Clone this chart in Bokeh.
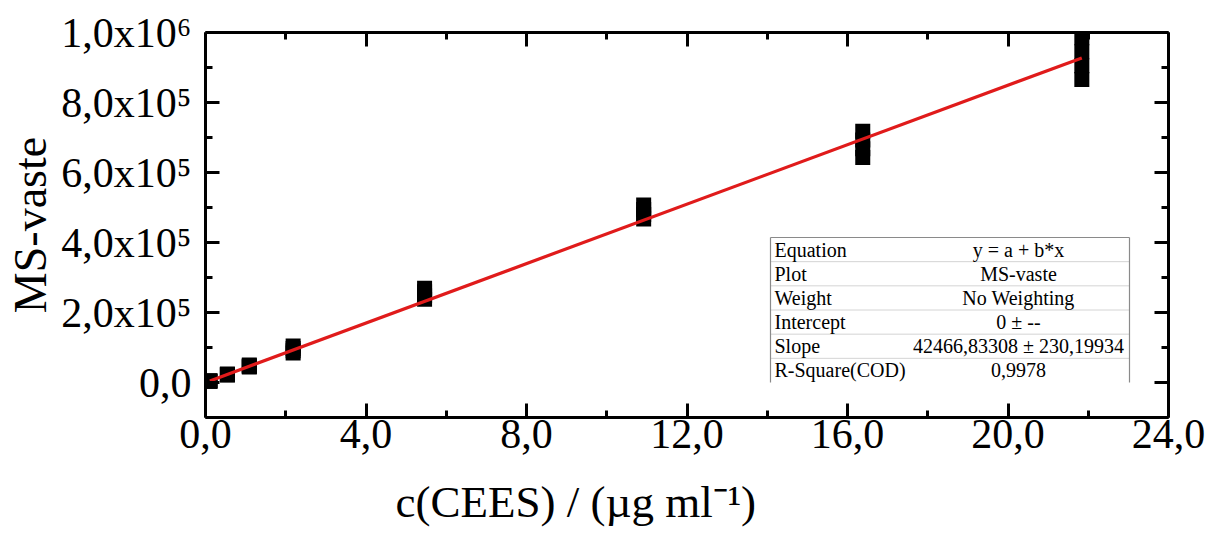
from bokeh.plotting import figure
from bokeh.models import Range1d, FixedTicker, LinearAxis, CustomJSTickFormatter, Title
from bokeh.core.properties import value
from bokeh.embed import file_html
from bokeh.resources import INLINE

# ---------------- data ----------------
conc = [0.109, 0.546, 1.092, 2.184, 5.46, 10.92, 16.38, 21.84]
rep1 = [3800, 21300, 44100, 84000, 238000, 467000, 643000, 866000]
rep2 = [4100, 22200, 46000, 91000, 248000, 480000, 668000, 905000]
rep3 = [4300, 23200, 48000, 97000, 259000, 494000, 693000, 945000]
rep4 = [4500, 24100, 49800, 104000, 269500, 507000, 718000, 985000]
fit_intercept = 0.0
fit_slope = 42466.83308

x_ticks = [0, 4, 8, 12, 16, 20, 24]
x_minor = [2, 6, 10, 14, 18, 22]
x_tick_labels = ["0,0", "4,0", "8,0", "12,0", "16,0", "20,0", "24,0"]
y_ticks = [0, 200000, 400000, 600000, 800000, 1000000]
y_minor = [-100000, 100000, 300000, 500000, 700000, 900000]
y_tick_labels = ["0,0", "2,0x10\u2075", "4,0x10\u2075", "6,0x10\u2075", "8,0x10\u2075", "1,0x10\u2076"]

table_keys = ["Equation", "Plot", "Weight", "Intercept", "Slope", "R-Square(COD)"]
table_vals = ["y = a + b*x", "MS-vaste", "No Weighting", "0 \u00b1 --",
              "42466,83308 \u00b1 230,19934", "0,9978"]

x_title = "c(CEES) / (\u00b5g ml\u207b\u00b9)"
y_title = "MS-vaste"

# ---------------- figure ----------------
FONT = "Liberation Serif"
W, H = 1213, 553
FL, FR, FT, FB = 205, 1168, 32, 417
X0, X1, Y0, Y1 = 0, 24, -100000, 1000000

p = figure(width=W, height=H, x_range=Range1d(X0, X1), y_range=Range1d(Y0, Y1),
           output_backend="svg", toolbar_location=None,
           min_border_left=FL, min_border_right=W - FR,
           min_border_top=FT, min_border_bottom=H - FB)
p.xgrid.visible = False
p.ygrid.visible = False
p.outline_line_color = None
p.background_fill_color = "white"
p.border_fill_color = "white"


def dx(px):
    return X0 + (px - FL) / (FR - FL) * (X1 - X0)


def dy(py):
    return Y1 - (py - FT) / (FB - FT) * (Y1 - Y0)


def style_axis(ax):
    ax.axis_line_width = 3
    ax.axis_line_color = "black"
    ax.major_tick_in = 14
    ax.major_tick_out = 0
    ax.minor_tick_in = 7
    ax.minor_tick_out = 0
    ax.major_tick_line_width = 3
    ax.minor_tick_line_width = 3
    ax.major_label_text_font = FONT
    ax.major_label_text_font_size = "42px"
    ax.major_label_text_color = "black"
    ax.axis_label_text_font = FONT
    ax.axis_label_text_font_style = "normal"
    ax.axis_label_text_color = "black"


xa = p.xaxis[0]
xa.ticker = FixedTicker(ticks=x_ticks, minor_ticks=x_minor)
style_axis(xa)
xa.major_label_overrides = {t: s for t, s in zip(x_ticks, x_tick_labels)}
xa.major_label_standoff = 2

ya = p.yaxis[0]
ya.ticker = FixedTicker(ticks=y_ticks, minor_ticks=y_minor)
style_axis(ya)
ya.major_label_overrides = {t: s for t, s in zip(y_ticks, y_tick_labels)}
ya.major_label_standoff = 14
ya.axis_label = y_title
ya.axis_label_text_font_size = "46px"
ya.axis_label_standoff = 2

blank = CustomJSTickFormatter(code="return ''")
top = LinearAxis(ticker=FixedTicker(ticks=x_ticks, minor_ticks=x_minor), formatter=blank)
style_axis(top)
top.major_label_standoff = 0
p.add_layout(top, "above")
right = LinearAxis(ticker=FixedTicker(ticks=y_ticks, minor_ticks=y_minor), formatter=blank)
style_axis(right)
right.major_label_standoff = 0
p.add_layout(right, "right")

# x axis title, left-offset as in the reference
p.add_layout(Title(text=x_title, text_font=FONT, text_font_size="45px",
                   text_font_style="normal", text_color="black",
                   align="left", offset=190, standoff=48), "below")

# data points (replicates drawn as squares)
xs = conc * 4
ys = rep1 + rep2 + rep3 + rep4
p.scatter(xs, ys, marker="square", size=15, fill_color="black", line_color=None)

# linear fit line
fx = [conc[0], conc[-1]]
fy = [fit_intercept + fit_slope * v for v in fx]
p.line(fx, fy, line_color="#e01b1b", line_width=3.2)

# ---------------- statistics table ----------------
tl, tr, ttop, tbot = 770, 1129, 237, 382
row_h = (tbot - ttop) / len(table_keys)
p.quad(left=dx(tl), right=dx(tr), top=dy(ttop), bottom=dy(tbot),
       fill_color="white", line_color=None)
inner_y = [dy(ttop + row_h * (i + 1)) for i in range(len(table_keys) - 1)]
p.segment(x0=[dx(tl)] * len(inner_y), x1=[dx(tr)] * len(inner_y), y0=inner_y, y1=inner_y,
          line_color="#d4d4d4", line_width=1)
p.segment(x0=[dx(tl), dx(tl), dx(tr)], x1=[dx(tr), dx(tl), dx(tr)],
          y0=[dy(ttop), dy(ttop), dy(ttop)], y1=[dy(ttop), dy(tbot), dy(tbot)],
          line_color="#8a8a8a", line_width=1.2)
row_c = [dy(ttop + row_h * (i + 0.5)) for i in range(len(table_keys))]
p.text(x=[dx(tl + 4)] * len(table_keys), y=row_c, text=table_keys,
       text_font=value(FONT), text_font_size="20px", text_color="black",
       text_align="left", text_baseline="middle")
p.text(x=[dx(1018)] * len(table_vals), y=row_c, text=table_vals,
       text_font=value(FONT), text_font_size="20px", text_color="black",
       text_align="center", text_baseline="middle")

open("out.html", "w").write(file_html(p, INLINE))
